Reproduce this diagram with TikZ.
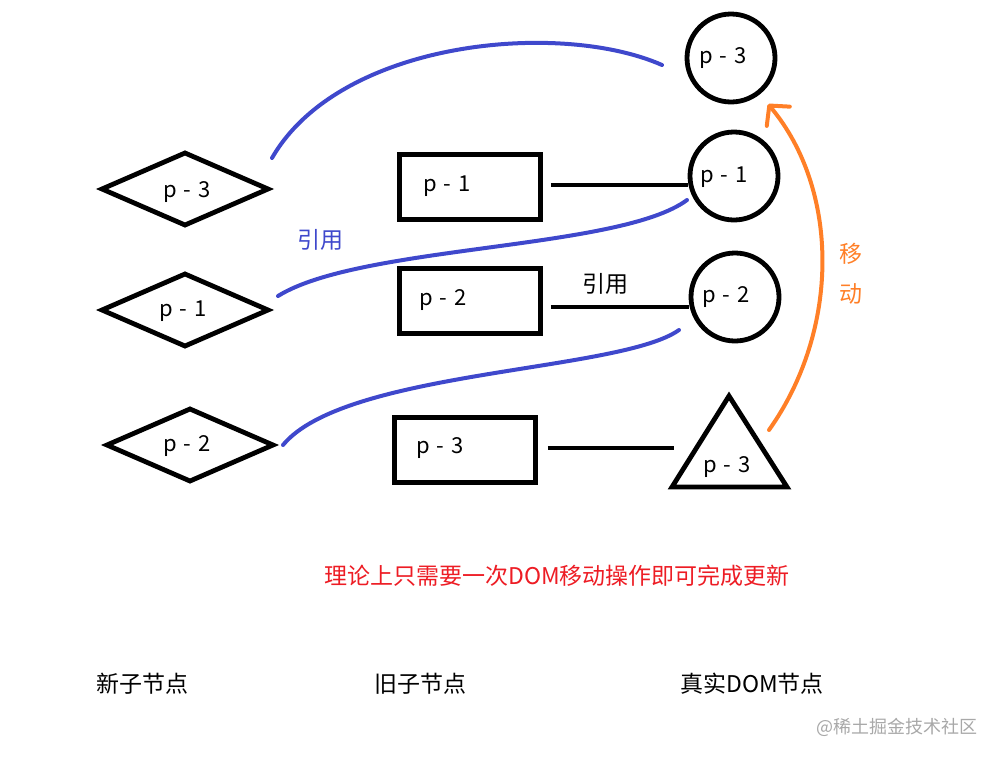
\documentclass[tikz,border=0pt]{standalone}
\usepackage{fontspec}
\setmainfont{Noto Sans CJK SC}
\usetikzlibrary{shapes.geometric,arrows.meta}
\definecolor{refblue}{HTML}{3F48CC}
\definecolor{moveorange}{HTML}{FF7F27}
\definecolor{notered}{HTML}{ED1C24}
\definecolor{wmgrey}{HTML}{A8A8A8}
\newcommand{\plabel}[1]{p\hspace{0.3em}-\hspace{0.3em}#1}
\begin{document}
\begin{tikzpicture}[x=1pt,y=-1pt,
  shapeline/.style={draw=black,line width=4.8pt},
  dia/.style={shapeline,diamond,minimum width=168pt,minimum height=74pt,inner sep=0pt},
  box/.style={shapeline,rectangle,minimum width=141pt,minimum height=65pt,inner sep=0pt},
  circ/.style={shapeline,circle,minimum size=88pt,inner sep=0pt},
  lbl/.style={font=\fontsize{22}{26}\selectfont,inner sep=0pt},
  captxt/.style={font=\fontsize{23}{27}\selectfont,inner sep=0pt},
  refline/.style={draw=refblue,line width=4pt,line cap=round},
  linkline/.style={draw=black,line width=4.8pt}]
\useasboundingbox (0,0) rectangle (1000,758);
% new children (diamonds)
\node[dia] (n3) at (185,189) {};
\node[lbl] (n3t) at (187,192) {\plabel{3}};
\node[dia] (n1) at (185,310) {};
\node[lbl] (n1t) at (183,311) {\plabel{1}};
\node[dia] (n2) at (190,445) {};
\node[lbl] (n2t) at (187,446) {\plabel{2}};
% old children (boxes)
\node[box] (o1) at (470,187) {};
\node[lbl] (o1t) at (447,186) {\plabel{1}};
\node[box] (o2) at (470,301) {};
\node[lbl] (o2t) at (443,300) {\plabel{2}};
\node[box] (o3) at (465,450) {};
\node[lbl] (o3t) at (440,448) {\plabel{3}};
% real DOM nodes
\node[circ] (c3) at (731,58) {};
\node[lbl] (c3t) at (723,58) {\plabel{3}};
\node[circ] (c1) at (734,176) {};
\node[lbl] (c1t) at (724,177) {\plabel{1}};
\node[circ] (c2) at (735,297) {};
\node[lbl] (c2t) at (726,297) {\plabel{2}};
\coordinate (tA) at (729,396);
\coordinate (tL) at (672,487);
\coordinate (tR) at (787,487);
\draw[line width=4.8pt,line join=miter] (tA) -- (tL) -- (tR) -- cycle;
\node[lbl] (tt) at (727,467) {\plabel{3}};
\coordinate (tin) at (674,448);
% links old -> real
\draw[linkline] (o1.east) ++(8,-2) coordinate (o1e) -- (c1.west |- o1e);
\draw[linkline] (o2.east) ++(8,6) coordinate (o2e) -- (c2.west |- o2e);
\draw[linkline] (o3.east) ++(10,-2) coordinate (o3e) -- (tin);
\node[captxt] (refb) at (605,284) {引用};
% blue reference curves
\coordinate (b1s) at (272,158);
\coordinate (b1e) at (662,65);
\draw[refline] (b1s) .. controls (340,40) and (560,20) .. (b1e);
\coordinate (b2s) at (278,296);
\coordinate (b2e) at (687,200);
\draw[refline] (b2s) .. controls (360,245) and (620,250) .. (b2e);
\coordinate (b3s) at (283,445);
\coordinate (b3e) at (679,330);
\draw[refline] (b3s) .. controls (345,370) and (620,372) .. (b3e);
\node[captxt,text=refblue] (refa) at (320,240) {引用};
% orange move arrow
\coordinate (ms) at (769,430);
\coordinate (mt) at (768,104);
\draw[draw=moveorange,line width=4pt,line cap=round,
  -{Straight Barb[length=14pt,width=30pt,line width=4pt,round]}]
  (ms) .. controls (840,330) and (840,190) .. (mt);
\node[captxt,text=moveorange,align=center] (mv) at (851,274) {移\\[13pt]动};
% captions
\node[captxt,text=notered] (note) at (557,576) {理论上只需要一次DOM移动操作即可完成更新};
\node[captxt] (capn) at (142,684) {新子节点};
\node[captxt] (capo) at (420,684) {旧子节点};
\node[captxt] (capr) at (752,684) {真实DOM节点};
\node[font=\fontsize{18}{20}\selectfont,text=wmgrey,anchor=east,inner sep=0pt] (wm) at (978,727) {@稀土掘金技术社区};
\end{tikzpicture}
\end{document}
